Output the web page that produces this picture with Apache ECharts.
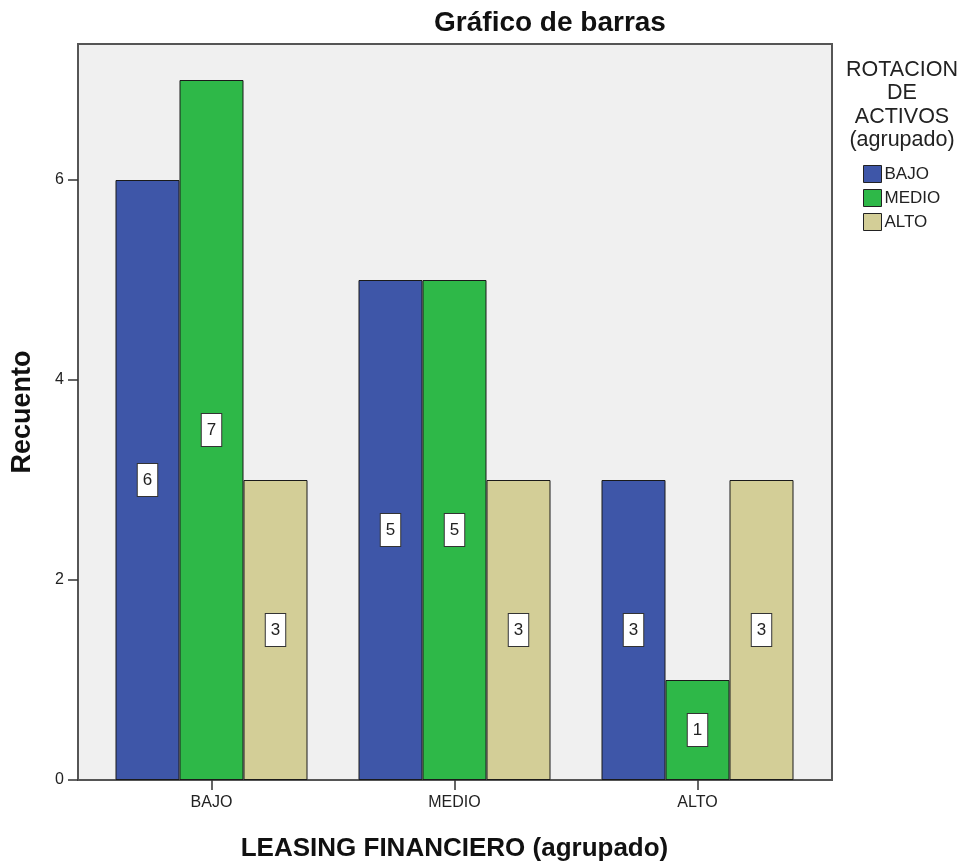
<!DOCTYPE html>
<html>
<head>
<meta charset="utf-8">
<style>
html,body{margin:0;padding:0;background:#fff;}
#chart{width:967px;height:863px;}
</style>
<script src="https://cdn.jsdelivr.net/npm/echarts@6/dist/echarts.min.js"></script>
</head>
<body>
<div id="chart"></div>
<script>
const categories = ['BAJO', 'MEDIO', 'ALTO'];
const seriesNames = ['BAJO', 'MEDIO', 'ALTO'];
const bajoValues = [6, 5, 3];
const medioValues = [7, 5, 1];
const altoValues = [3, 3, 3];
const yTicks = [0, 2, 4, 6];
const yMax = 7.36;

const colors = ['#3e56a8', '#2eb848', '#d3ce97'];
const FONT = '"Liberation Sans", Arial, sans-serif';

const chart = echarts.init(document.getElementById('chart'));

function barSeries(name, data, color) {
  return {
    name: name,
    type: 'bar',
    xAxisIndex: 1,
    yAxisIndex: 1,
    data: data,
    barWidth: 64,
    barGap: '0%',
    itemStyle: { color: color, borderColor: '#1a1a1a', borderWidth: 1 },
    label: {
      show: true,
      position: 'inside',
      color: '#222',
      fontFamily: FONT,
      fontSize: 17,
      lineHeight: 18,
      backgroundColor: '#fff',
      borderColor: '#333',
      borderWidth: 1,
      padding: [7, 5]
    },
    emphasis: { disabled: true }
  };
}

chart.setOption({
  animation: false,
  textStyle: { fontFamily: FONT },
  grid: [
    { left: 78, right: 135, top: 44, bottom: 83, containLabel: false, outerBoundsMode: 'none', show: true, backgroundColor: '#f0f0f0', borderColor: '#555', borderWidth: 2, z: 0 },
    { left: 90, right: 148, top: 44, bottom: 83, containLabel: false, outerBoundsMode: 'none' }
  ],
  xAxis: [
    { type: 'value', gridIndex: 0, show: false, min: 0, max: 1 },
    {
      type: 'category', gridIndex: 1, data: categories,
      axisLine: { show: false },
      axisTick: { show: true, alignWithLabel: true, length: 10, lineStyle: { color: '#333', width: 1.5 } },
      axisLabel: { color: '#222', fontSize: 16, margin: 15, fontFamily: FONT },
      name: 'LEASING FINANCIERO (agrupado)',
      nameLocation: 'middle',
      nameGap: 56,
      nameTextStyle: { color: '#111', fontSize: 26, fontWeight: 'bold', fontFamily: FONT }
    }
  ],
  yAxis: [
    {
      type: 'value', gridIndex: 0, min: 0, max: yMax,
      splitLine: { show: false },
      axisLine: { show: false },
      axisTick: { show: true, length: 10, customValues: yTicks, lineStyle: { color: '#333', width: 1.5 } },
      axisLabel: { color: '#222', fontSize: 16, margin: 14, customValues: yTicks, fontFamily: FONT },
      name: 'Recuento',
      nameLocation: 'middle',
      nameGap: 42,
      nameTextStyle: { color: '#111', fontSize: 27, fontWeight: 'bold', fontFamily: FONT }
    },
    { type: 'value', gridIndex: 1, min: 0, max: yMax, show: false }
  ],
  legend: {
    orient: 'vertical',
    left: 858,
    top: 160,
    itemWidth: 18,
    itemHeight: 17,
    itemGap: 6,
    icon: 'rect',
    textStyle: { color: '#222', fontSize: 17, fontFamily: FONT, padding: [0, 0, 0, -2] },
    itemStyle: { borderColor: '#222', borderWidth: 1 },
    data: seriesNames,
    selectedMode: false
  },
  graphic: [
    {
      type: 'text', x: 550, y: 23,
      style: { text: 'Gráfico de barras', textAlign: 'center', textVerticalAlign: 'middle', font: 'bold 28px ' + FONT, fill: '#111' }
    },
    {
      type: 'text', x: 902, y: 58,
      style: { text: 'ROTACION\nDE\nACTIVOS\n(agrupado)', textAlign: 'center', lineHeight: 23.5, font: '21.5px ' + FONT, fill: '#222' }
    }
  ],
  series: [
    barSeries(seriesNames[0], bajoValues, colors[0]),
    barSeries(seriesNames[1], medioValues, colors[1]),
    barSeries(seriesNames[2], altoValues, colors[2])
  ]
});
</script>
</body>
</html>
